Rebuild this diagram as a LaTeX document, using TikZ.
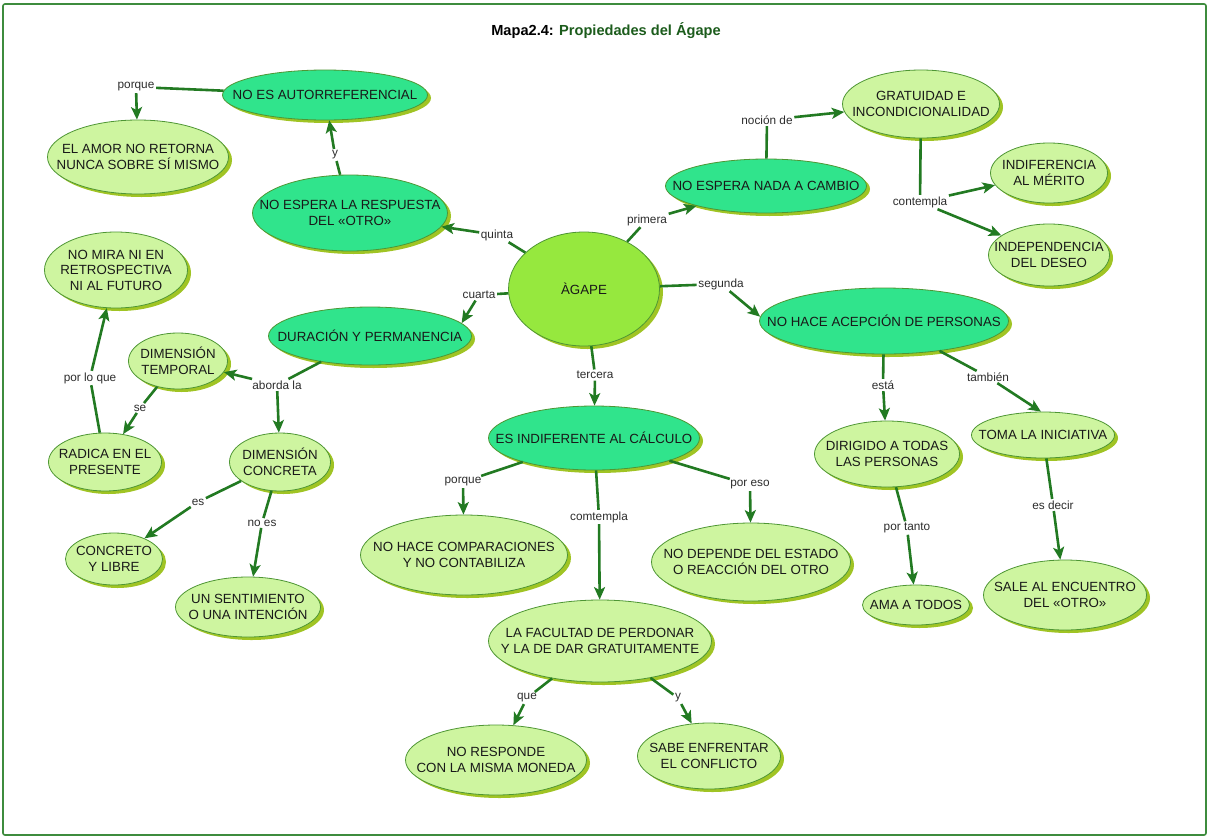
\documentclass[tikz,border=0pt]{standalone}
\usepackage{fontspec}
\setmainfont{Liberation Sans}
\usetikzlibrary{shapes.geometric,shadows,arrows.meta}

\definecolor{darkc}{RGB}{48,228,140}
\definecolor{lightc}{RGB}{206,245,160}
\definecolor{corec}{RGB}{150,232,62}
\definecolor{shadc}{RGB}{160,196,36}
\definecolor{bordc}{RGB}{78,150,52}
\definecolor{linec}{RGB}{34,122,34}
\definecolor{txtc}{RGB}{25,25,25}
\definecolor{labc}{RGB}{45,45,45}
\definecolor{framec}{RGB}{62,140,62}
\definecolor{titlegreen}{RGB}{28,92,28}

\tikzset{
  base/.style={ellipse, draw=bordc, line width=0.8pt, inner sep=0pt,
    drop shadow={shadow xshift=3.5pt, shadow yshift=-3pt, fill=shadc, opacity=1}},
  dk/.style={base, fill=darkc},
  lt/.style={base, fill=lightc},
  core/.style={base, fill=corec},
  ctext/.style={align=center, font=\fontsize{13.3}{15.5}\selectfont, text=txtc, inner sep=0pt},
  lab/.style={font=\fontsize{11.8}{14}\selectfont, text=labc, inner sep=1.5pt},
  ln/.style={draw=linec, line width=2.6pt},
  arr/.style={ln, -{Stealth[length=12.5pt,width=11pt,inset=3pt]}},
}

% concept bubble: style, name, centre, width, height, text
\newcommand\concept[6]{%
  \node[#1, minimum width=#4, minimum height=#5] (#2) at #3 {};
  \node[ctext] (#2-t) at (#2) {#6};}

\begin{document}
\begin{tikzpicture}[x=1pt,y=-1pt]
\useasboundingbox (0,0) rectangle (1209,838);
\fill[white] (0,0) rectangle (1209,838);
\draw[framec, line width=1.6pt, rounded corners=2pt] (3,4) rectangle (1206,835);

\node (title) at (606,31) {\bfseries\fontsize{14.6}{17}\selectfont Mapa2.4: \textcolor{titlegreen}{Propiedades del Ágape}};

% concepts
\concept{dk}{autoref}{(325,95)}{205pt}{50pt}{NO ES AUTORREFERENCIAL}
\concept{lt}{amor}{(138,157)}{181pt}{74pt}{EL AMOR NO RETORNA\\NUNCA SOBRE SÍ MISMO}
\concept{dk}{resp}{(350,213)}{195pt}{76pt}{NO ESPERA LA RESPUESTA\\DEL «OTRO»}
\concept{core}{agape}{(584,289)}{151pt}{114pt}{ÀGAPE}
\concept{dk}{nada}{(766,186)}{201pt}{54pt}{NO ESPERA NADA A CAMBIO}
\concept{lt}{grat}{(921,104)}{157pt}{68pt}{GRATUIDAD E\\INCONDICIONALIDAD}
\concept{lt}{merito}{(1049,173)}{117pt}{60pt}{INDIFERENCIA\\AL MÉRITO}
\concept{lt}{deseo}{(1049,255)}{121pt}{62pt}{INDEPENDENCIA\\DEL DESEO}
\concept{lt}{mira}{(116,270)}{143pt}{76pt}{NO MIRA NI EN\\RETROSPECTIVA\\NI AL FUTURO}
\concept{dk}{durac}{(370,336)}{203pt}{58pt}{DURACIÓN Y PERMANENCIA}
\concept{lt}{temp}{(178,361)}{99pt}{56pt}{DIMENSIÓN\\TEMPORAL}
\concept{lt}{radica}{(105,462)}{113pt}{58pt}{RADICA EN EL\\PRESENTE}
\concept{lt}{concreta}{(280,462)}{101pt}{58pt}{DIMENSIÓN\\CONCRETA}
\concept{lt}{libre}{(114,559)}{97pt}{52pt}{CONCRETO\\Y LIBRE}
\concept{lt}{sent}{(248,607)}{145pt}{60pt}{UN SENTIMIENTO\\O UNA INTENCIÓN}
\concept{dk}{acep}{(884,321)}{249pt}{66pt}{NO HACE ACEPCIÓN DE PERSONAS}
\concept{dk}{calc}{(594,438)}{211pt}{64pt}{ES INDIFERENTE AL CÁLCULO}
\concept{lt}{comp}{(464,555)}{207pt}{80pt}{NO HACE COMPARACIONES\\Y NO CONTABILIZA}
\concept{lt}{depende}{(751,562)}{199pt}{78pt}{NO DEPENDE DEL ESTADO\\O REACCIÓN DEL OTRO}
\concept{lt}{facultad}{(600,641)}{223pt}{82pt}{LA FACULTAD DE PERDONAR\\Y LA DE DAR GRATUITAMENTE}
\concept{lt}{moneda}{(496,760)}{181pt}{70pt}{NO RESPONDE\\CON LA MISMA MONEDA}
\concept{lt}{conflicto}{(709,756)}{143pt}{66pt}{SABE ENFRENTAR\\EL CONFLICTO}
\concept{lt}{dirigido}{(887,454)}{145pt}{66pt}{DIRIGIDO A TODAS\\LAS PERSONAS}
\concept{lt}{toma}{(1043,435)}{143pt}{46pt}{TOMA LA INICIATIVA}
\concept{lt}{ama}{(916,605)}{107pt}{40pt}{AMA A TODOS}
\concept{lt}{sale}{(1065,595)}{163pt}{70pt}{SALE AL ENCUENTRO\\DEL «OTRO»}

% linking phrases
\node[lab] (lquinta) at (497,235) {quinta};
\node[lab] (lprim) at (647,220) {primera};
\node[lab] (lseg) at (721,284) {segunda};
\node[lab] (lcuar) at (479,295) {cuarta};
\node[lab] (lterc) at (595,375) {tercera};
\node[lab] (ly1) at (335,155) {y};
\node[lab] (lporq1) at (136,87) {porque};
\node[lab] (lnoc) at (767,120) {noción de};
\node[lab] (lcont) at (920,202) {contempla};
\node[lab] (labor) at (277,385) {aborda la};
\node[lab] (lse) at (140,408) {se};
\node[lab] (lplq) at (90,378) {por lo que};
\node[lab] (les) at (198,502) {es};
\node[lab] (lnoes) at (262,523) {no es};
\node[lab] (lporq2) at (463,482) {porque};
\node[lab] (lcomt) at (599,517) {comtempla};
\node[lab] (lporeso) at (750,485) {por eso};
\node[lab] (lque) at (527,698) {que};
\node[lab] (ly2) at (678,698) {y};
\node[lab] (lesta) at (883,385) {está};
\node[lab] (ltamb) at (988,377) {también};
\node[lab] (lportanto) at (907,528) {por tanto};
\node[lab] (lesdecir) at (1053,505) {es decir};

% connectors
\draw[ln] (agape) -- (lquinta);  \draw[arr] (lquinta) -- (resp);
\draw[ln] (agape) -- (lprim);    \draw[arr] (lprim) -- (nada);
\draw[ln] (agape) -- (lseg);     \draw[arr] (lseg) -- (acep.178);
\draw[ln] (agape) -- (lcuar);    \draw[arr] (lcuar) -- (durac.8);
\draw[ln] (agape) -- (lterc);    \draw[arr] (lterc) -- (calc);

\draw[ln] (resp) -- (ly1);       \draw[arr] (ly1) -- (autoref);
\draw[ln] (autoref) -- (lporq1); \draw[arr] (lporq1) -- (amor);

\draw[ln] (nada) -- (lnoc);      \draw[arr] (lnoc) -- (grat);
\draw[ln] (grat) -- (lcont);     \draw[arr] (lcont) -- (merito);
                                 \draw[arr] (lcont) -- (deseo);

\draw[ln] (durac) -- (labor);    \draw[arr] (labor) -- (temp);
                                 \draw[arr] (labor) -- (concreta);
\draw[ln] (temp) -- (lse);       \draw[arr] (lse) -- (radica);
\draw[ln] (radica) -- (lplq);    \draw[arr] (lplq) -- (mira);
\draw[ln] (concreta) -- (les);   \draw[arr] (les) -- (libre);
\draw[ln] (concreta) -- (lnoes); \draw[arr] (lnoes) -- (sent);

\draw[ln] (calc) -- (lporq2);    \draw[arr] (lporq2) -- (comp);
\draw[ln] (calc) -- (lcomt);     \draw[arr] (lcomt) -- (facultad);
\draw[ln] (calc) -- (lporeso);   \draw[arr] (lporeso) -- (depende);
\draw[ln] (facultad) -- (lque);  \draw[arr] (lque) -- (moneda);
\draw[ln] (facultad) -- (ly2);   \draw[arr] (ly2) -- (conflicto);

\draw[ln] (acep) -- (lesta);     \draw[arr] (lesta) -- (dirigido);
\draw[ln] (acep) -- (ltamb);     \draw[arr] (ltamb) -- (toma.95);
\draw[ln] (dirigido) -- (lportanto); \draw[arr] (lportanto) -- (ama);
\draw[ln] (toma) -- (lesdecir);  \draw[arr] (lesdecir) -- (sale);
\end{tikzpicture}
\end{document}
